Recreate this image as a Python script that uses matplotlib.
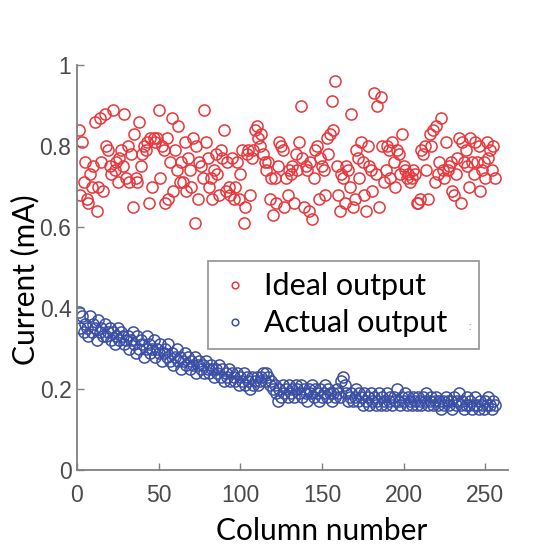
import matplotlib.pyplot as plt

# ideal output current per column (mA)
ideal = [
    0.84, 0.68, 0.81, 0.71, 0.76, 0.67, 0.66, 0.73, 0.70, 0.75, 0.86, 0.64, 0.70, 0.87, 0.76, 0.69,
    0.88, 0.80, 0.79, 0.75, 0.73, 0.89, 0.74, 0.76, 0.71, 0.77, 0.79, 0.75, 0.88, 0.72, 0.80, 0.71,
    0.78, 0.65, 0.83, 0.72, 0.71, 0.86, 0.75, 0.78, 0.80, 0.79, 0.81, 0.66, 0.82, 0.70, 0.82, 0.81,
    0.82, 0.89, 0.72, 0.80, 0.79, 0.66, 0.82, 0.67, 0.76, 0.87, 0.69, 0.79, 0.74, 0.85, 0.71, 0.76,
    0.71, 0.81, 0.69, 0.77, 0.74, 0.70, 0.82, 0.61, 0.80, 0.67, 0.76, 0.75, 0.72, 0.89, 0.81, 0.77,
    0.70, 0.72, 0.67, 0.74, 0.78, 0.73, 0.68, 0.79, 0.77, 0.84, 0.69, 0.76, 0.70, 0.68, 0.77, 0.67,
    0.70, 0.76, 0.67, 0.73, 0.79, 0.61, 0.65, 0.78, 0.79, 0.68, 0.77, 0.79, 0.84, 0.85, 0.82, 0.80,
    0.83, 0.78, 0.76, 0.74, 0.76, 0.67, 0.72, 0.63, 0.72, 0.66, 0.75, 0.81, 0.80, 0.79, 0.65, 0.72,
    0.68, 0.74, 0.73, 0.75, 0.66, 0.78, 0.74, 0.81, 0.90, 0.77, 0.65, 0.75, 0.74, 0.64, 0.76, 0.62,
    0.72, 0.79, 0.80, 0.67, 0.77, 0.75, 0.74, 0.68, 0.82, 0.78, 0.83, 0.91, 0.84, 0.96, 0.75, 0.68,
    0.64, 0.73, 0.72, 0.66, 0.75, 0.74, 0.70, 0.88, 0.65, 0.67, 0.79, 0.77, 0.72, 0.81, 0.76, 0.68,
    0.64, 0.80, 0.75, 0.74, 0.69, 0.93, 0.73, 0.90, 0.65, 0.92, 0.80, 0.71, 0.74, 0.80, 0.79, 0.72,
    0.81, 0.76, 0.70, 0.79, 0.78, 0.73, 0.83, 0.75, 0.74, 0.72, 0.73, 0.71, 0.72, 0.74, 0.73, 0.66,
    0.66, 0.67, 0.79, 0.78, 0.80, 0.74, 0.67, 0.83, 0.80, 0.84, 0.71, 0.85, 0.73, 0.76, 0.87, 0.74,
    0.72, 0.81, 0.74, 0.75, 0.76, 0.69, 0.68, 0.73, 0.77, 0.82, 0.66, 0.81, 0.76, 0.79, 0.75, 0.70,
    0.82, 0.76, 0.73, 0.81, 0.76, 0.80, 0.69, 0.74, 0.76, 0.72, 0.81, 0.77, 0.79, 0.74, 0.80, 0.72,
]

# actual output current per column (mA)
actual = [
    0.39, 0.35, 0.38, 0.34, 0.36, 0.35, 0.33, 0.38, 0.34, 0.36, 0.35, 0.32, 0.37, 0.34, 0.35, 0.33,
    0.36, 0.33, 0.34, 0.35, 0.32, 0.34, 0.31, 0.33, 0.35, 0.32, 0.34, 0.33, 0.31, 0.32, 0.33, 0.30,
    0.32, 0.34, 0.31, 0.29, 0.33, 0.30, 0.32, 0.31, 0.28, 0.30, 0.33, 0.31, 0.29, 0.30, 0.32, 0.28,
    0.30, 0.29, 0.31, 0.27, 0.29, 0.30, 0.28, 0.31, 0.27, 0.29, 0.26, 0.28, 0.30, 0.27, 0.28, 0.25,
    0.27, 0.29, 0.26, 0.28, 0.25, 0.27, 0.26, 0.28, 0.24, 0.26, 0.27, 0.25, 0.26, 0.24, 0.27, 0.25,
    0.24, 0.26, 0.25, 0.23, 0.25, 0.24, 0.26, 0.23, 0.25, 0.22, 0.24, 0.23, 0.25, 0.22, 0.24, 0.23,
    0.22, 0.24, 0.21, 0.23, 0.22, 0.24, 0.21, 0.23, 0.22, 0.20, 0.23, 0.21, 0.22, 0.23, 0.21, 0.22,
    0.23, 0.24, 0.22, 0.24, 0.23, 0.21, 0.22, 0.20, 0.21, 0.19, 0.17, 0.20, 0.18, 0.21, 0.19, 0.20,
    0.18, 0.21, 0.19, 0.20, 0.18, 0.21, 0.20, 0.19, 0.21, 0.18, 0.20, 0.19, 0.17, 0.20, 0.19, 0.21,
    0.18, 0.20, 0.19, 0.17, 0.20, 0.18, 0.19, 0.21, 0.18, 0.20, 0.19, 0.17, 0.19, 0.18, 0.20, 0.19,
    0.18, 0.22, 0.23, 0.21, 0.19, 0.17, 0.18, 0.19, 0.17, 0.18, 0.20, 0.17, 0.19, 0.18, 0.16, 0.19,
    0.17, 0.18, 0.16, 0.19, 0.17, 0.18, 0.16, 0.17, 0.19, 0.16, 0.18, 0.17, 0.16, 0.19, 0.17, 0.18,
    0.16, 0.18, 0.17, 0.20, 0.17, 0.16, 0.18, 0.17, 0.19, 0.16, 0.18, 0.17, 0.16, 0.18, 0.17, 0.16,
    0.18, 0.17, 0.16, 0.18, 0.17, 0.19, 0.16, 0.17, 0.18, 0.16, 0.17, 0.18, 0.16, 0.17, 0.15, 0.17,
    0.16, 0.18, 0.17, 0.16, 0.17, 0.15, 0.18, 0.16, 0.17, 0.19, 0.16, 0.17, 0.15, 0.16, 0.18, 0.16,
    0.17, 0.15, 0.16, 0.18, 0.16, 0.15, 0.17, 0.16, 0.15, 0.17, 0.16, 0.18, 0.16, 0.15, 0.17, 0.16,
]

columns = list(range(1, len(ideal) + 1))
xticks = [0, 50, 100, 150, 200, 250]
xtick_labels = ['0', '50', '100', '150', '200', '250']
yticks = [0, 0.2, 0.4, 0.6, 0.8, 1]
ytick_labels = ['0', '0.2', '0.4', '0.6', '0.8', '1']

tick_font = ['Liberation Sans Narrow', 'Liberation Sans', 'DejaVu Sans']
text_font = ['Lato', 'DejaVu Sans']

fig = plt.figure(figsize=(5.48, 5.56), dpi=100)
ax = fig.add_axes([0.1405, 0.1547, 0.7865, 0.7283])

ax.plot(columns, ideal, 'o', mfc='none', mec='#e8363b', mew=1.1, ms=8,
        label='Ideal output')
ax.plot(columns, actual, 'o', mfc='none', mec='#3a4ea6', mew=1.1, ms=8,
        label='Actual output')

ax.set_xlim(0, 264)
ax.set_ylim(0, 1)
ax.set_xticks(xticks, xtick_labels, fontfamily=tick_font, fontsize=16.5)
ax.set_yticks(yticks, ytick_labels, fontfamily=tick_font, fontsize=16.5)

for s in ['top', 'right']:
    ax.spines[s].set_visible(False)
for s in ['left', 'bottom']:
    ax.spines[s].set_color('#808080')
    ax.spines[s].set_linewidth(1.3)

ax.tick_params(direction='in', length=5, width=1, color='#808080',
               labelcolor='#4a4a4a')
ax.tick_params(axis='x', pad=10)
ax.tick_params(axis='y', pad=4)

ax.set_xlabel('Column number', fontfamily=text_font, fontsize=21.5)
ax.xaxis.set_label_coords(0.568, -0.115)
ax.set_ylabel('Current (mA)', fontfamily=text_font, fontsize=21.5)
ax.yaxis.set_label_coords(-0.088, 0.47)

# expand mode gives the legend box its wide right margin
leg = ax.legend(loc='upper left', bbox_to_anchor=(0.304, 0.517, 0.629, 0),
                mode='expand', borderaxespad=0,
                prop={'family': text_font, 'size': 22}, markerscale=0.6,
                handletextpad=0.45, handlelength=1.0, borderpad=0.38,
                labelspacing=0.3, fancybox=False)
leg.get_frame().set_edgecolor('#808080')
leg.get_frame().set_linewidth(1.3)

# small stray mark at the right of the legend in the original
fig.text(470 / 548, 1 - 326 / 556, ':', fontsize=9, color='#a0a0a0',
         ha='center', va='center')

fig.savefig('out.png', dpi=100)
